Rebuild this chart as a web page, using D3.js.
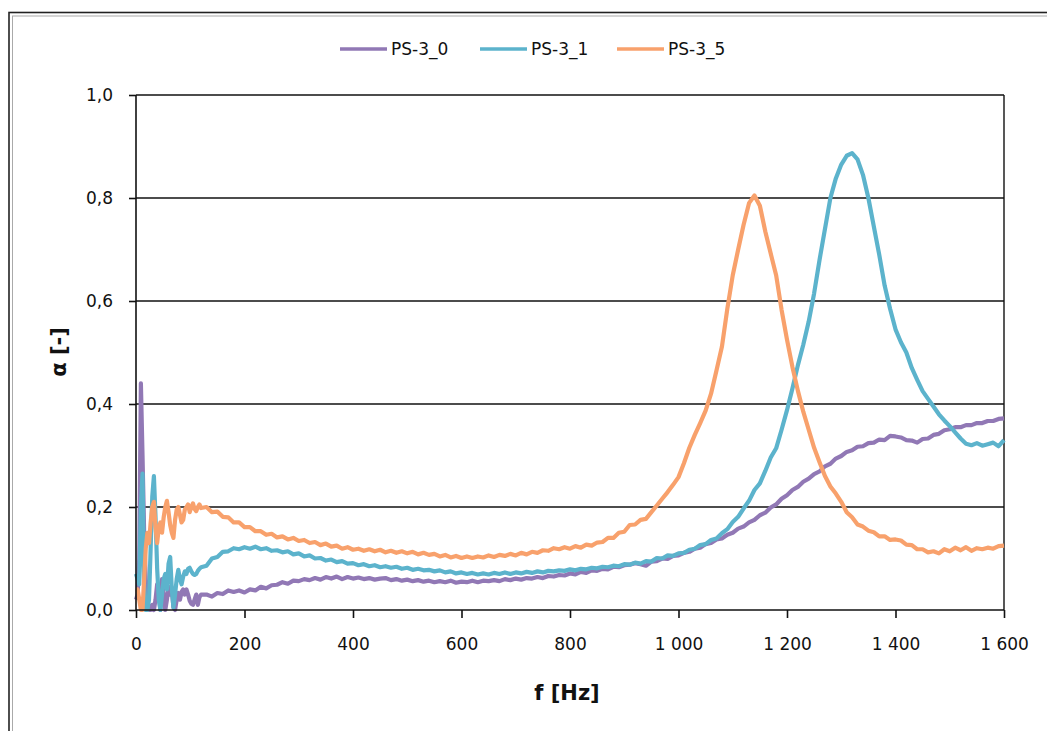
<!DOCTYPE html>
<html>
<head>
<meta charset="utf-8">
<script src="https://cdn.jsdelivr.net/npm/d3@7"></script>
<style>
  html, body { margin: 0; padding: 0; background: #fff; }
  svg { display: block; }
  text { font-family: "DejaVu Sans", Verdana, sans-serif; fill: #111; }
</style>
</head>
<body>
<svg id="chart" width="1047" height="731"></svg>
<script>
// ---------- DATA ----------
const seriesNames = ["PS-3_0", "PS-3_1", "PS-3_5"];
const seriesColors = ["#9178b5", "#5cb3cc", "#f8a16c"];
const xTicks = [0, 200, 400, 600, 800, 1000, 1200, 1400, 1600];
const yTicks = [0, 0.2, 0.4, 0.6, 0.8, 1.0];

const freqs = [
  0,3,6,9,12,15,18,21,24,27,30,33,36,39,42,45,48,51,54,57,60,63,66,69,72,75,78,81,84,87,90,93,96,99,102,105,108,111,114,117,120,
  130,140,150,160,170,180,190,200,210,220,230,240,250,260,270,280,290,300,310,320,330,340,350,360,370,380,390,400,
  410,420,430,440,450,460,470,480,490,500,510,520,530,540,550,560,570,580,590,600,610,620,630,640,650,660,670,680,690,700,
  710,720,730,740,750,760,770,780,790,800,810,820,830,840,850,860,870,880,890,900,910,920,930,940,950,960,970,980,990,1000,
  1010,1020,1030,1040,1050,1060,1070,1080,1090,1100,1110,1120,1130,1140,1150,1160,1170,1180,1190,1200,
  1210,1220,1230,1240,1250,1260,1270,1280,1290,1300,1310,1320,1330,1340,1350,1360,1370,1380,1390,1400,
  1410,1420,1430,1440,1450,1460,1470,1480,1490,1500,1510,1520,1530,1540,1550,1560,1570,1580,1590,1600
];

const ps30 = [
  0.02,0.03,0.1,0.44,0.3,0.15,0.06,0.02,0.0,0.0,0.01,0.0,0.02,0.05,0.03,0.0,0.06,0.03,0.0,0.02,0.045,0.03,0.04,0.005,0.0,0.02,0.033,0.02,0.035,0.04,0.03,0.04,0.03,0.018,0.012,0.01,0.02,0.03,0.01,0.025,0.03,
  0.03,0.026,0.033,0.031,0.038,0.035,0.038,0.034,0.04,0.038,0.045,0.042,0.048,0.049,0.054,0.051,0.057,0.056,0.06,0.058,0.062,0.059,0.064,0.061,0.065,0.06,0.064,0.061,
  0.063,0.06,0.062,0.059,0.061,0.062,0.058,0.06,0.057,0.059,0.056,0.058,0.055,0.057,0.054,0.056,0.054,0.057,0.053,0.055,0.054,0.057,0.054,0.057,0.056,0.058,0.056,0.06,0.058,0.061,
  0.059,0.062,0.061,0.064,0.062,0.066,0.065,0.068,0.067,0.071,0.069,0.074,0.072,0.077,0.076,0.08,0.079,0.084,0.083,0.087,0.088,0.091,0.089,0.086,0.094,0.095,0.1,0.099,0.105,0.106,
  0.111,0.113,0.119,0.121,0.128,0.13,0.137,0.139,0.146,0.15,0.158,0.162,0.17,0.175,0.184,0.189,0.199,0.205,0.216,0.223,
  0.233,0.239,0.249,0.255,0.264,0.269,0.279,0.284,0.294,0.299,0.307,0.31,0.317,0.318,0.324,0.325,0.331,0.33,0.338,0.337,
  0.335,0.33,0.329,0.325,0.332,0.333,0.34,0.342,0.349,0.351,0.355,0.355,0.359,0.359,0.363,0.363,0.367,0.367,0.371,0.372
];

const ps31 = [
  0.07,0.06,0.05,0.2,0.265,0.05,0.0,0.0,0.02,0.12,0.22,0.26,0.18,0.08,0.02,0.0,0.03,0.06,0.07,0.04,0.09,0.103,0.04,0.005,0.03,0.06,0.078,0.06,0.05,0.065,0.075,0.07,0.08,0.082,0.075,0.07,0.068,0.07,0.076,0.08,0.083,
  0.086,0.1,0.103,0.113,0.114,0.12,0.118,0.122,0.119,0.123,0.118,0.12,0.115,0.116,0.112,0.114,0.108,0.11,0.104,0.106,0.1,0.101,0.096,0.098,0.093,0.095,0.09,0.091,
  0.087,0.089,0.085,0.087,0.083,0.085,0.082,0.084,0.08,0.082,0.078,0.08,0.077,0.078,0.075,0.077,0.073,0.075,0.071,0.073,0.07,0.072,0.069,0.071,0.069,0.072,0.07,0.073,0.07,0.073,
  0.071,0.074,0.072,0.075,0.073,0.076,0.075,0.077,0.076,0.079,0.077,0.08,0.079,0.082,0.081,0.084,0.083,0.086,0.085,0.089,0.088,0.092,0.09,0.095,0.094,0.101,0.1,0.106,0.105,0.11,
  0.111,0.117,0.119,0.126,0.128,0.136,0.139,0.149,0.157,0.171,0.181,0.197,0.212,0.233,0.246,0.27,0.296,0.314,0.35,0.388,
  0.43,0.475,0.515,0.56,0.615,0.68,0.74,0.8,0.838,0.865,0.882,0.887,0.875,0.845,0.8,0.745,0.69,0.63,0.585,0.545,
  0.52,0.5,0.47,0.447,0.425,0.41,0.395,0.38,0.368,0.357,0.345,0.333,0.323,0.32,0.324,0.319,0.322,0.325,0.318,0.33
];

const ps35 = [
  0.04,0.04,0.02,0.0,0.0,0.06,0.12,0.15,0.13,0.17,0.2,0.21,0.16,0.13,0.16,0.17,0.15,0.18,0.2,0.212,0.19,0.165,0.15,0.14,0.175,0.195,0.2,0.185,0.17,0.175,0.195,0.2,0.205,0.19,0.2,0.207,0.196,0.192,0.2,0.205,0.198,
  0.2,0.19,0.191,0.181,0.18,0.17,0.17,0.161,0.161,0.153,0.153,0.146,0.148,0.141,0.143,0.137,0.14,0.134,0.136,0.13,0.132,0.126,0.129,0.123,0.125,0.119,0.122,0.117,
  0.119,0.115,0.118,0.114,0.117,0.112,0.115,0.111,0.114,0.11,0.113,0.108,0.111,0.107,0.109,0.104,0.107,0.102,0.105,0.101,0.104,0.101,0.104,0.102,0.106,0.103,0.107,0.105,0.109,0.106,
  0.111,0.108,0.113,0.111,0.116,0.115,0.12,0.118,0.122,0.119,0.124,0.121,0.127,0.125,0.131,0.132,0.14,0.14,0.15,0.152,0.165,0.166,0.175,0.177,0.19,0.203,0.216,0.229,0.243,0.258,
  0.285,0.315,0.34,0.363,0.387,0.42,0.465,0.511,0.585,0.65,0.7,0.748,0.79,0.805,0.785,0.735,0.692,0.65,0.583,0.525,
  0.472,0.426,0.385,0.35,0.315,0.287,0.26,0.24,0.226,0.21,0.19,0.18,0.166,0.162,0.154,0.151,0.143,0.143,0.136,0.137,
  0.135,0.127,0.126,0.118,0.118,0.112,0.114,0.11,0.118,0.114,0.121,0.116,0.122,0.115,0.12,0.118,0.121,0.119,0.124,0.125
];

const seriesValues = [ps30, ps31, ps35];

// ---------- CHART ----------
const svg = d3.select("#chart");
svg.append("rect").attr("width", 1047).attr("height", 731).attr("fill", "#fff");

// outer double frame (extends past right/bottom edges)
svg.append("rect").attr("x", 9).attr("y", 12.5).attr("width", 1100).attr("height", 800)
  .attr("fill", "none").attr("stroke", "#222").attr("stroke-width", 1.6);
svg.append("rect").attr("x", 12.5).attr("y", 16).attr("width", 1100).attr("height", 800)
  .attr("fill", "none").attr("stroke", "#aaa").attr("stroke-width", 1);

const x = d3.scaleLinear().domain([0, 1600]).range([136, 1004]);
const y = d3.scaleLinear().domain([0, 1]).range([610, 95]);

const loc = d3.formatLocale({ decimal: ",", thousands: " ", grouping: [3], currency: ["", ""] });
const fy = loc.format(".1f");
const fx = loc.format(",d");

// gridlines
svg.append("g").selectAll("line").data(yTicks.filter(d => d > 0))
  .join("line")
  .attr("x1", x(0)).attr("x2", x(1600))
  .attr("y1", d => y(d)).attr("y2", d => y(d))
  .attr("stroke", "#111").attr("stroke-width", 1.4);
// right border
svg.append("line").attr("x1", x(1600)).attr("x2", x(1600)).attr("y1", y(1)).attr("y2", y(0))
  .attr("stroke", "#111").attr("stroke-width", 1.4);

// series lines
const line = d3.line().x((d, i) => x(freqs[i])).y(d => y(d));
const gLines = svg.append("g");
seriesValues.forEach((vals, k) => {
  gLines.append("path").datum(vals)
    .attr("d", line)
    .attr("fill", "none")
    .attr("stroke", seriesColors[k])
    .attr("stroke-width", 4.2)
    .attr("stroke-linejoin", "round")
    .attr("stroke-linecap", "butt");
});

// axes
const yAxis = d3.axisLeft(y).tickValues(yTicks).tickFormat(fy).tickSize(7).tickPadding(16);
const gy = svg.append("g").attr("transform", `translate(${x(0)},0)`).call(yAxis);
const xAxis = d3.axisBottom(x).tickValues(xTicks).tickFormat(fx).tickSize(8).tickPadding(20);
const gx = svg.append("g").attr("transform", `translate(0,${y(0)})`).call(xAxis);
[gx, gy].forEach(g => {
  g.selectAll("path.domain").attr("stroke", "#111").attr("stroke-width", 1.6);
  g.selectAll(".tick line").attr("stroke", "#111").attr("stroke-width", 1.6);
  g.selectAll("text").style("font-family", '"DejaVu Sans", Verdana, sans-serif')
    .style("font-size", "17px").attr("fill", "#222");
});
gy.select("path.domain").attr("d", `M0,${y(1)}V${y(0)}`);
gx.select("path.domain").attr("d", `M${x(0)},0H${x(1600)}`);

// axis titles
svg.append("text")
  .attr("transform", `translate(66,352) rotate(-90)`)
  .attr("text-anchor", "middle")
  .style("font-size", "21px").style("font-weight", "bold")
  .text("α [-]");
svg.append("text")
  .attr("x", 567).attr("y", 700)
  .attr("text-anchor", "middle")
  .style("font-size", "21px").style("font-weight", "bold")
  .text("f [Hz]");

// legend
const legendX = [340, 480, 617];
const legend = svg.append("g");
seriesNames.forEach((name, k) => {
  legend.append("line")
    .attr("x1", legendX[k]).attr("x2", legendX[k] + 47)
    .attr("y1", 49).attr("y2", 49)
    .attr("stroke", seriesColors[k]).attr("stroke-width", 3.5);
  legend.append("text")
    .attr("x", legendX[k] + 51).attr("y", 55)
    .style("font-size", "17px").attr("fill", "#222")
    .text(name);
});
</script>
</body>
</html>
